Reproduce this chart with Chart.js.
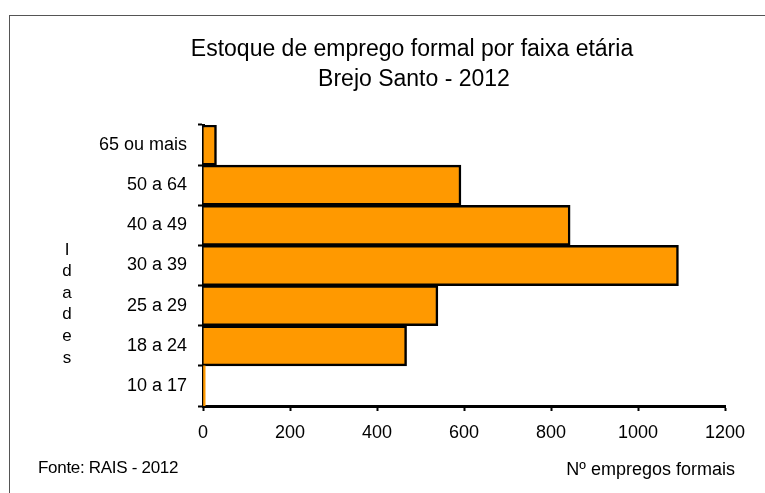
<!DOCTYPE html>
<html>
<head>
<meta charset="utf-8">
<script src="https://cdn.jsdelivr.net/npm/chart.js@4/dist/chart.umd.min.js"></script>
<style>
  body { margin: 0; background: #fff; }
  #wrap { width: 765px; height: 493px; }
</style>
</head>
<body>
<div id="wrap"><canvas id="ageChart" width="765" height="493"></canvas></div>
<script>
const ageGroups = ['65 ou mais', '50 a 64', '40 a 49', '30 a 39', '25 a 29', '18 a 24', '10 a 17'];
const employees = [31, 593, 844, 1093, 540, 468, 5];
const xTickValues = [0, 200, 400, 600, 800, 1000, 1200];
const titleLines = ['Estoque de emprego formal por faixa etária', 'Brejo Santo - 2012'];
const yTitle = 'Idades';
const xTitle = 'Nº empregos formais';
const sourceNote = 'Fonte: RAIS - 2012';

const FONT = '"Liberation Sans", Arial, sans-serif';
Chart.defaults.font.family = FONT;
Chart.defaults.font.size = 18;
Chart.defaults.color = '#000';

// frame, titles and notes drawn straight on the canvas
const decor = {
    id: 'decor',
    beforeDraw(chart) {
        const c = chart.ctx;
        c.save();
        c.fillStyle = '#fff';
        c.fillRect(0, 0, chart.width, chart.height);
        c.strokeStyle = '#555';
        c.lineWidth = 1;
        c.strokeRect(9.5, 15.5, 900, 700);
        c.restore();
    },
    afterDraw(chart) {
        const c = chart.ctx;
        c.save();
        c.fillStyle = '#000';
        c.textBaseline = 'middle';
        c.textAlign = 'center';
        c.font = '23px ' + FONT;
        c.fillText(titleLines[0], 412, 50);
        c.fillText(titleLines[1], 414, 80);

        c.font = '17px ' + FONT;
        yTitle.split('').forEach((ch, i) => c.fillText(ch, 67, 250 + i * 21.6));

        c.textAlign = 'right';
        c.font = '18px ' + FONT;
        c.fillText(xTitle, 735, 470);

        c.textAlign = 'left';
        c.font = '17px ' + FONT;
        c.letterSpacing = '-0.3px';
        c.fillText(sourceNote, 38, 468);
        c.restore();
    }
};

const ctx = document.getElementById('ageChart').getContext('2d');
new Chart(ctx, {
    type: 'bar',
    data: {
        labels: ageGroups,
        datasets: [{
            data: employees,
            backgroundColor: '#FF9900',
            borderColor: '#000',
            borderWidth: c => (c.raw < 15 ? 0 : 2.5), // tiny bar shows only orange
            barPercentage: 1,
            categoryPercentage: 1
        }]
    },
    options: {
        indexAxis: 'y',
        responsive: false,
        animation: false,
        layout: { padding: { top: 125, right: 40, bottom: 0, left: 0 } },
        plugins: {
            legend: { display: false },
            tooltip: { enabled: false }
        },
        scales: {
            x: {
                min: xTickValues[0],
                max: xTickValues[xTickValues.length - 1],
                afterBuildTicks: s => { s.ticks = xTickValues.map(v => ({ value: v })); },
                afterFit: s => { s.height = 87; },
                grid: { drawOnChartArea: false, tickLength: 5, tickColor: '#000', tickWidth: 2 },
                border: { display: true, color: '#000', width: 3 },
                ticks: { padding: 11, color: '#000', callback: v => String(v) }
            },
            y: {
                afterFit: s => { s.width = 203; },
                grid: { offset: true, drawOnChartArea: false, tickLength: 5, tickColor: '#000', tickWidth: 2 },
                border: { display: true, color: '#000', width: 3 },
                ticks: { padding: 11, color: '#000' }
            }
        }
    },
    plugins: [decor]
});
</script>
</body>
</html>
